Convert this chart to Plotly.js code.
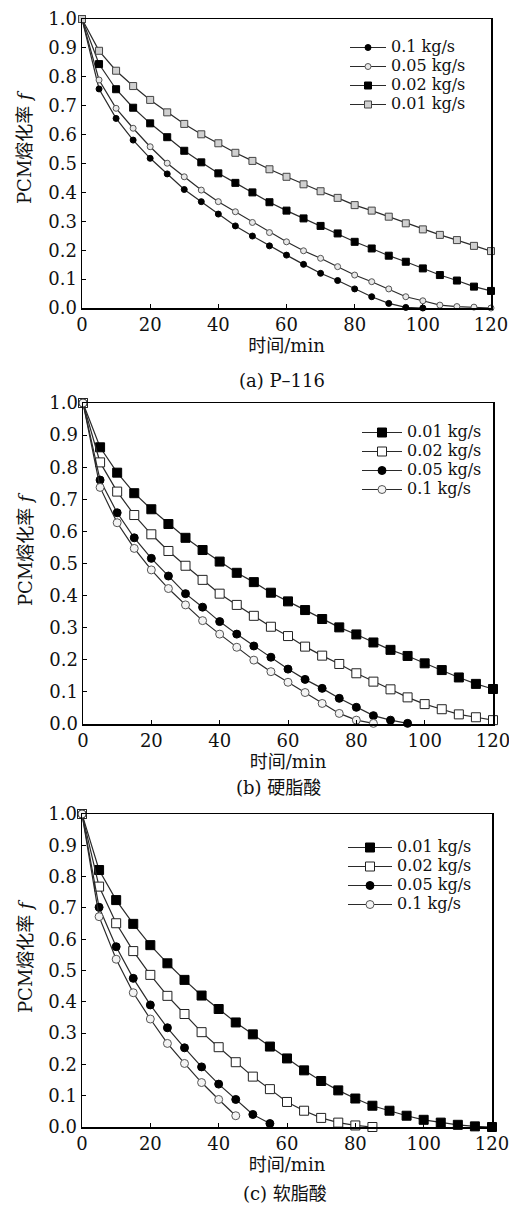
<!DOCTYPE html>
<html>
<head>
<meta charset="utf-8">
<script src="https://cdn.plot.ly/plotly-3.0.1.min.js"></script>
<style>html,body{margin:0;padding:0;background:#fff;}#chart{width:509px;height:1206px;}</style>
</head>
<body>
<div id="chart"></div>
<script>
// ---- data ----
const timeMin = [0,5,10,15,20,25,30,35,40,45,50,55,60,65,70,75,80,85,90,95,100,105,110,115,120];
const xTicks = [0,20,40,60,80,100,120];
const yTicks = [0,0.1,0.2,0.3,0.4,0.5,0.6,0.7,0.8,0.9,1.0];

// (a) P-116
const a_names = ['0.1 kg/s','0.05 kg/s','0.02 kg/s','0.01 kg/s'];
const a_01  = [1.0,0.758,0.656,0.581,0.518,0.464,0.410,0.368,0.325,0.284,0.249,0.215,0.183,0.151,0.120,0.095,0.066,0.039,0.016,0.002,0.0];
const a_005 = [1.0,0.789,0.691,0.622,0.558,0.501,0.454,0.408,0.368,0.333,0.296,0.261,0.229,0.198,0.172,0.143,0.114,0.091,0.066,0.039,0.025,0.010,0.005,0.003,0.0];
const a_002 = [1.0,0.844,0.757,0.693,0.639,0.591,0.544,0.504,0.466,0.433,0.400,0.366,0.337,0.310,0.284,0.258,0.229,0.206,0.181,0.160,0.137,0.114,0.095,0.074,0.059];
const a_001 = [1.0,0.890,0.821,0.768,0.720,0.677,0.637,0.601,0.570,0.537,0.509,0.480,0.454,0.428,0.404,0.381,0.356,0.337,0.316,0.293,0.272,0.253,0.235,0.215,0.197];

// (b) 硬脂酸
const b_names = ['0.01 kg/s','0.02 kg/s','0.05 kg/s','0.1 kg/s'];
const b_001 = [1.0,0.862,0.783,0.719,0.669,0.623,0.580,0.542,0.506,0.471,0.442,0.409,0.382,0.355,0.327,0.301,0.279,0.254,0.231,0.212,0.189,0.168,0.145,0.125,0.109];
const b_002 = [1.0,0.815,0.724,0.651,0.591,0.539,0.493,0.449,0.406,0.371,0.337,0.303,0.274,0.241,0.213,0.187,0.158,0.132,0.108,0.083,0.062,0.046,0.030,0.021,0.012];
const b_005 = [1.0,0.760,0.658,0.580,0.516,0.461,0.406,0.364,0.319,0.280,0.243,0.208,0.171,0.139,0.111,0.080,0.052,0.026,0.012,0.002];
const b_01  = [1.0,0.737,0.627,0.547,0.480,0.422,0.371,0.322,0.280,0.239,0.199,0.163,0.130,0.098,0.064,0.033,0.012,0.002];

// (c) 软脂酸
const c_names = ['0.01 kg/s','0.02 kg/s','0.05 kg/s','0.1 kg/s'];
const c_001 = [1.0,0.821,0.725,0.649,0.581,0.523,0.470,0.420,0.377,0.334,0.296,0.257,0.219,0.181,0.147,0.117,0.091,0.068,0.052,0.036,0.023,0.014,0.007,0.002,0.0];
const c_002 = [1.0,0.768,0.651,0.562,0.486,0.419,0.361,0.303,0.255,0.207,0.161,0.121,0.080,0.052,0.029,0.014,0.005,0.0];
const c_005 = [1.0,0.702,0.576,0.475,0.390,0.317,0.253,0.192,0.137,0.088,0.040,0.011];
const c_01  = [1.0,0.672,0.536,0.429,0.345,0.267,0.203,0.142,0.088,0.036];

const captions = ['(a) P–116','(b) 硬脂酸','(c) 软脂酸'];
const xTitle = '时间/min';
const yTitle = 'PCM熔化率 <i>f</i>';

// ---- styles ----
const FONT = '"DejaVu Serif", "Noto Sans CJK SC", serif';
const LINE = '#2a2a2a';
const LEGSPAN = (s) => '<span style="font-size:16px">' + s + '</span>';

function tr(y, name, ax, leg, sym, size, fill, edge) {
  return {
    x: timeMin.slice(0, y.length), y: y, name: LEGSPAN(name),
    type: 'scatter', mode: 'lines+markers', cliponaxis: false,
    xaxis: 'x' + ax, yaxis: 'y' + ax, legend: leg,
    line: {color: LINE, width: 1.2},
    marker: {symbol: sym, size: size, color: fill, line: {color: edge, width: 1}}
  };
}

const traces = [
  tr(a_01,  a_names[0], '',  'legend',  'circle', 6, '#000', '#000'),
  tr(a_005, a_names[1], '',  'legend',  'circle', 6, '#e8e8e8', '#555'),
  tr(a_002, a_names[2], '',  'legend',  'square', 7, '#000', '#000'),
  tr(a_001, a_names[3], '',  'legend',  'square', 7, '#d0d0d0', '#444'),

  tr(b_001, b_names[0], '2', 'legend2', 'square', 9, '#000', '#000'),
  tr(b_002, b_names[1], '2', 'legend2', 'square', 9, '#fff', '#222'),
  tr(b_005, b_names[2], '2', 'legend2', 'circle', 8, '#000', '#000'),
  tr(b_01,  b_names[3], '2', 'legend2', 'circle', 8, '#f4f4f4', '#555'),

  tr(c_001, c_names[0], '3', 'legend3', 'square', 9, '#000', '#000'),
  tr(c_002, c_names[1], '3', 'legend3', 'square', 9, '#fff', '#222'),
  tr(c_005, c_names[2], '3', 'legend3', 'circle', 8, '#000', '#000'),
  tr(c_01,  c_names[3], '3', 'legend3', 'circle', 8, '#f4f4f4', '#555')
];

const W = 509, H = 1206;
function px2x(p){ return p / W; }
function px2y(p){ return 1 - p / H; }

function xax(dom, anchor) {
  return {
    domain: dom, anchor: anchor, range: [0, 120],
    tickmode: 'array', tickvals: xTicks,
    ticks: 'inside', ticklen: 4, tickcolor: '#000',
    showline: true, mirror: true, linecolor: '#000', linewidth: 1.5,
    showgrid: false, zeroline: false, ticklabeloverflow: 'allow',
    tickfont: {family: FONT, size: 18, color: '#111'},
    title: {text: xTitle, font: {family: FONT, size: 18, color: '#111'}, standoff: 2}
  };
}
function yax(dom, anchor) {
  return {
    domain: dom, anchor: anchor, range: [0, 1],
    tickmode: 'array', tickvals: yTicks, tickformat: '.1f',
    ticks: 'inside', ticklen: 4, tickcolor: '#000',
    showline: true, mirror: true, linecolor: '#000', linewidth: 1.5,
    showgrid: false, zeroline: false, ticklabeloverflow: 'allow',
    tickfont: {family: FONT, size: 18, color: '#111'}
  };
}
function leg(xp, yp, iw) {
  return {
    x: px2x(xp), y: px2y(yp), xanchor: 'left', yanchor: 'top',
    bgcolor: 'rgba(0,0,0,0)', borderwidth: 0,
    font: {family: FONT, size: 12, color: '#111'},
    tracegroupgap: 0, itemwidth: iw
  };
}
function txt(text, xp, yp, angle, size) {
  return {text: text, x: px2x(xp), y: px2y(yp), xref: 'paper', yref: 'paper',
          xanchor: 'center', yanchor: 'middle', showarrow: false, textangle: angle,
          font: {family: FONT, size: size, color: '#111'}};
}

const layout = {
  width: W, height: H,
  margin: {l: 0, r: 0, t: 0, b: 0},
  paper_bgcolor: '#fff', plot_bgcolor: '#fff',
  showlegend: true,
  xaxis:  xax([px2x(82), px2x(491)], 'y'),
  yaxis:  yax([px2y(308), px2y(19)], 'x'),
  xaxis2: xax([px2x(83), px2x(493)], 'y2'),
  yaxis2: yax([px2y(724), px2y(403)], 'x2'),
  xaxis3: xax([px2x(82), px2x(492)], 'y3'),
  yaxis3: yax([px2y(1127), px2y(814)], 'x3'),
  legend:  leg(345, 33, 36),
  legend2: leg(357, 418, 40),
  legend3: leg(343, 833, 44),
  annotations: [
    txt(captions[0], 282, 380, 0, 18),
    txt(captions[1], 278, 787, 0, 18),
    txt(captions[2], 285, 1193, 0, 18),
    txt(yTitle, 25, 147, -90, 18),
    txt(yTitle, 25, 549, -90, 18),
    txt(yTitle, 25, 956, -90, 18)
  ]
};

Plotly.newPlot('chart', traces, layout, {staticPlot: true, displayModeBar: false});
</script>
</body>
</html>
